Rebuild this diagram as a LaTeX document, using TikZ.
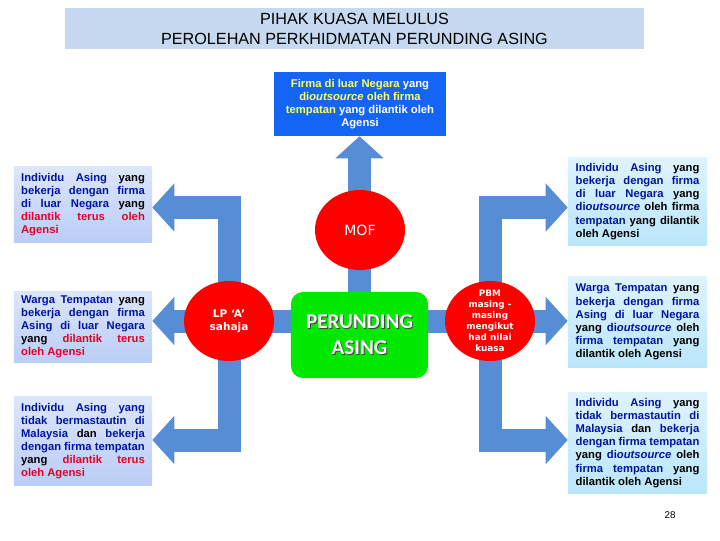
\documentclass[tikz,border=0pt]{standalone}
\usepackage{fontspec}
\setmainfont{Liberation Sans}
\newfontfamily\dejavu{DejaVu Sans}
\newfontfamily\carlito{Carlito}
\usetikzlibrary{shapes.geometric, arrows.meta, positioning, backgrounds}
\definecolor{arrowblue}{RGB}{86,141,212}
\definecolor{titlefill}{RGB}{198,217,240}
\definecolor{firmafill}{RGB}{20,100,245}
\definecolor{perundinggreen}{RGB}{0,232,0}
\definecolor{circred}{RGB}{255,0,0}
\definecolor{ltop}{RGB}{220,230,251}
\definecolor{lbot}{RGB}{186,205,245}
\definecolor{rtop}{RGB}{222,243,252}
\definecolor{rbot}{RGB}{186,230,250}
\definecolor{txtblue}{RGB}{0,20,160}
\definecolor{txtred}{RGB}{228,0,40}
\definecolor{txtyellow}{RGB}{255,255,90}
\newcommand{\bl}[1]{\textcolor{txtblue}{#1}}
\newcommand{\rd}[1]{\textcolor{txtred}{#1}}
\newcommand{\yl}[1]{\textcolor{txtyellow}{#1}}
\newcommand{\shtxt}[1]{\leavevmode\rlap{\kern0.7pt\raisebox{-0.7pt}{\color{black!75}#1}}#1}

\begin{document}
\begin{tikzpicture}[x=0.025cm, y=-0.025cm,
        >={Triangle[width=1.175cm, length=0.55cm]},
        fat/.style={draw=arrowblue, line width=0.575cm, line join=miter},
        lbox/.style={top color=ltop, bottom color=lbot, align=justify,
        text width=88pt, inner xsep=5pt, minimum width=3.45cm,
        font=\fontsize{8}{9.3}\selectfont\bfseries},
        rbox/.style={lbox, top color=rtop, bottom color=rbot, minimum width=3.475cm},
        redell/.style={ellipse, fill=circred, minimum width=2.25cm,
        minimum height=2cm, inner sep=0pt},
        circtxt/.style={text=white, align=center, inner sep=0pt}]
      \useasboundingbox (0,0) rectangle (720,540);
      % title
      \node[fill=titlefill, minimum width=14.475cm, minimum height=0.975cm,
        align=center, font=\fontsize{11.5}{14.2}\selectfont] (title) at (354.5,28.5)
        {PIHAK KUASA MELULUS\\PEROLEHAN PERKHIDMATAN PERUNDING ASING};
      \node[fill=firmafill, text=white, minimum width=4.3cm, minimum height=1.6cm,
        align=center, font=\fontsize{8}{9.4}\selectfont\bfseries] (firma) at (360,104)
        {\yl{Firma di luar Negara} yang\\ \yl{di\textit{outsource} oleh firma}\\
         \yl{tempatan} yang dilantik oleh\\ Agensi};
      % centre
      \node[fill=perundinggreen, rounded corners=0.3cm, minimum width=3.425cm,
        minimum height=2.15cm, text=white, align=center,
        font=\carlito\fontsize{15}{18.5}\selectfont\bfseries] (pa) at (359.5,335)
        {\shtxt{PERUNDING}\\ \shtxt{ASING}};
      \node[redell] (mof) at (360,230) {};
      \node[circtxt, font=\dejavu\fontsize{10}{12}\selectfont] (moftxt) at (mof) {MOF};
      \node[redell] (lp) at (229,321) {};
      \node[circtxt, font=\dejavu\fontsize{7.5}{9.2}\selectfont\bfseries] (lptxt) at (lp)
        {LP ‘A’\\sahaja};
      \node[redell] (pbm) at (490,321) {};
      \node[circtxt, font=\dejavu\fontsize{6.3}{7.8}\selectfont\bfseries] (pbmtxt) at (pbm)
        {PBM\\masing -\\masing\\mengikut\\had nilai\\kuasa};
      % left boxes
      \node[lbox, minimum height=1.875cm] (ind1) at (83,204.5)
        {\bl{Individu Asing} yang\linebreak
         \bl{bekerja dengan firma}\linebreak
         \bl{di luar Negara} yang\linebreak
         \rd{dilantik terus oleh}\linebreak
         \rd{Agensi}};
      \node[lbox, minimum height=1.75cm] (ind2) at (83,327)
        {\bl{Warga Tempatan} yang\linebreak
         \bl{bekerja dengan firma}\linebreak
         \bl{Asing di luar Negara}\linebreak
         yang \rd{dilantik terus}\linebreak
         \rd{oleh Agensi}};
      \node[lbox, minimum height=2.2cm] (ind3) at (83,441)
        {\bl{Individu Asing yang}\linebreak
         \bl{tidak bermastautin di}\linebreak
         \bl{Malaysia} dan \bl{bekerja}\linebreak
         \bl{dengan firma tempatan}\linebreak
         yang \rd{dilantik terus}\linebreak
         \rd{oleh Agensi}};
      % right boxes
      \node[rbox, minimum height=2.175cm] (ext1) at (637.5,201.5)
        {\bl{Individu Asing} yang\linebreak
         \bl{bekerja dengan firma}\linebreak
         \bl{di luar Negara} yang\linebreak
         \bl{di\textit{outsource}} oleh firma\linebreak
         \bl{tempatan} yang dilantik\linebreak
         oleh Agensi};
      \node[rbox, minimum height=2.25cm] (ext2) at (637.5,322)
        {\bl{Warga Tempatan} yang\linebreak
         \bl{bekerja dengan firma}\linebreak
         \bl{Asing di luar Negara}\linebreak
         yang \bl{di\textit{outsource}} oleh\linebreak
         \bl{firma tempatan} yang\linebreak
         dilantik oleh Agensi};
      \node[rbox, minimum height=2.5cm] (ext3) at (637.5,443)
        {\bl{Individu Asing} yang\linebreak
         \bl{tidak bermastautin di}\linebreak
         \bl{Malaysia} dan \bl{bekerja}\linebreak
         \bl{dengan firma tempatan}\linebreak
         yang \bl{di\textit{outsource}} oleh\linebreak
         \bl{firma tempatan} yang\linebreak
         dilantik oleh Agensi};
      \node[font=\fontsize{7}{8}\selectfont] (pgno) at (670,515) {28};
      \coordinate (armtop) at (0,207.5);
      \coordinate (armbot) at (0,440);
      % block arrows behind the nodes
      \begin{scope}[on background layer]
        \draw[fat] (lp.center) -- (pbm.center);
        \draw[fat,->] (pa.center) -- (pa.center |- firma.south);
        \draw[fat,->] (lp.center) |- (armtop -| ind1.east);
        \draw[fat,->] (lp.center) -- (lp.center -| ind2.east);
        \draw[fat,->] (lp.center) |- (armbot -| ind3.east);
        \draw[fat,->] (pbm.center) |- (armtop -| ext1.west);
        \draw[fat,->] (pbm.center) -- (pbm.center -| ext2.west);
        \draw[fat,->] (pbm.center) |- (armbot -| ext3.west);
      \end{scope}
    \end{tikzpicture}
\end{document}
